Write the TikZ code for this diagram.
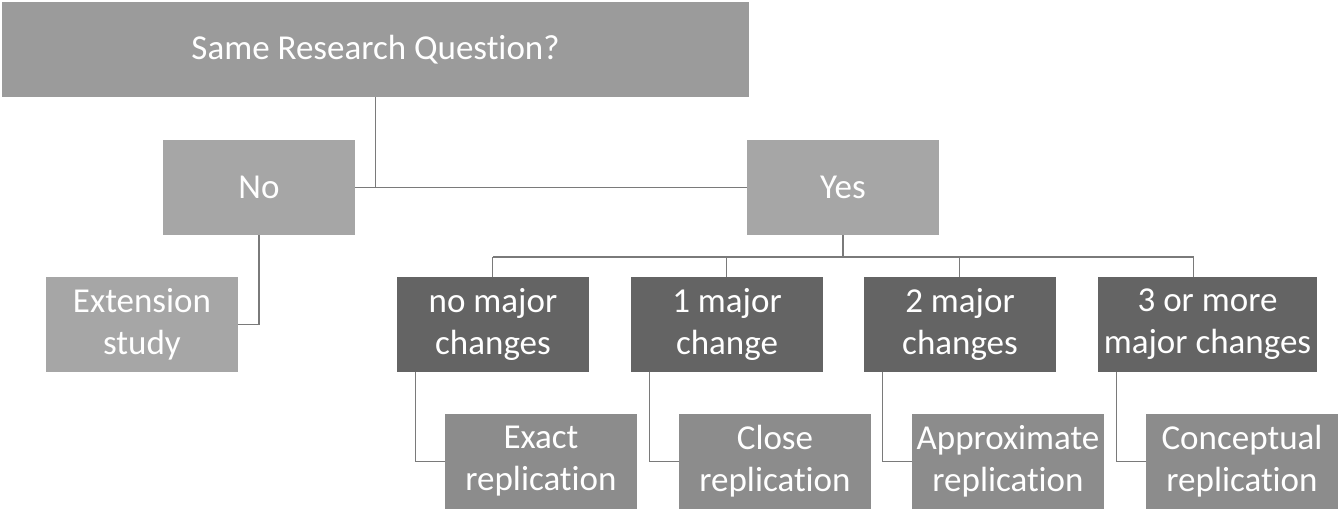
\documentclass[tikz,border=0pt]{standalone}
\usepackage{fontspec}
\setmainfont{Carlito}[Ligatures=NoCommon]
\usepackage{tikz}
\definecolor{topgray}{HTML}{9B9B9B}
\definecolor{answergray}{HTML}{A6A6A6}
\definecolor{changegray}{HTML}{646464}
\definecolor{kindgray}{HTML}{8C8C8C}
\definecolor{linegray}{HTML}{7A7A7A}

\begin{document}
\begin{tikzpicture}[x=1pt,y=-1pt,
	box/.style={rectangle, inner sep=0pt, minimum width=192pt, minimum height=95pt, text=white, align=center, font=\fontsize{35}{42}\selectfont},
	answer/.style={box, fill=answergray},
	change/.style={box, fill=changegray},
	kind/.style={box, fill=kindgray},
	link/.style={draw=linegray, line width=1.2pt}]
	%\draw[help lines] (0,0) grid[step=50] (1340,512);
	\useasboundingbox (0,0) rectangle (1340,512);
	\node[box, fill=topgray, minimum width=747pt] (question) at (375.5,49.5) {Same Research Question?};
	\node[answer] (no) at (259,187.5) {No};
	\node[answer] (yes) at (843,187.5) {Yes};
	\node[answer] (ext) at (142,324.5) {Extension\\study};
	\node[change] (c0) at (493,324.5) {no major\\changes};
	\node[change] (c1) at (727,324.5) {1 major\\change};
	\node[change] (c2) at (960,324.5) {2 major\\changes};
	\node[change, minimum width=219pt] (c3) at (1207.5,324.5) {3 or more\\major changes};
	\node[kind] (r0) at (541,461.5) {Exact\\replication};
	\node[kind] (r1) at (775,461.5) {Close\\replication};
	\node[kind] (r2) at (1008,461.5) {Approximate\\replication};
	\node[kind] (r3) at (1242,461.5) {Conceptual\\replication};
	\coordinate (bus) at (0,257);
	\draw[link] (question.south) -- (question.south |- no.east);
	\draw[link] (no.east) -- (yes.west);
	\draw[link] (no.south) |- (ext.east);
	\draw[link] (yes.south) -- (yes.south |- bus);
	\draw[link] ([xshift=96pt]c0.north west |- bus) -- ([xshift=96pt]c3.north west |- bus);
	\foreach \i in {0,1,2,3} {
		\draw[link] ([xshift=96pt]c\i.north west |- bus) -- ([xshift=96pt]c\i.north west);
		\draw[link] ([xshift=19pt]c\i.south west) |- (r\i.west);
	}
\end{tikzpicture}
\end{document}
